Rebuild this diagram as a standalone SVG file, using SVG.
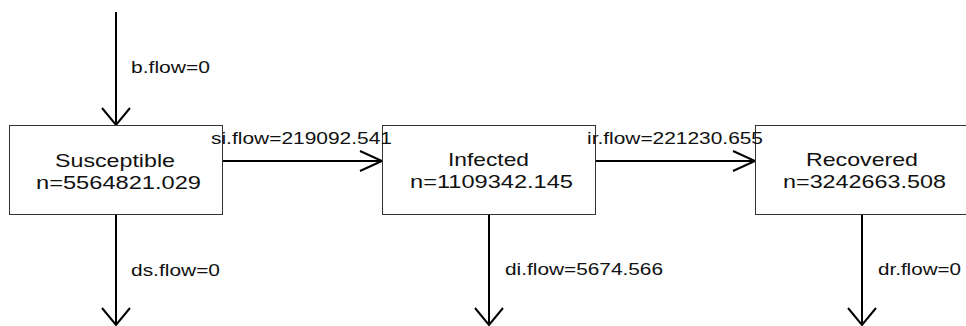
<svg xmlns="http://www.w3.org/2000/svg" width="966" height="326" viewBox="0 0 966 326">
<style>
.box{fill:#fff;stroke:#333;stroke-width:1}
.big{font-family:"Liberation Sans",Arial,sans-serif;font-size:18.6px;fill:#111}
.lbl{font-family:"Liberation Sans",Arial,sans-serif;font-size:16px;fill:#111}
.flow{stroke:#000;stroke-width:2;fill:none}
</style>
<defs>
<marker id="ah" markerUnits="userSpaceOnUse" viewBox="0 0 24 22" refX="22" refY="11" markerWidth="24" markerHeight="22" orient="auto" overflow="visible">
<path d="M0,1 L22,11 L0,21" fill="none" stroke="#000" stroke-width="2"/>
</marker>
<marker id="av" markerUnits="userSpaceOnUse" viewBox="0 0 18 30" refX="17" refY="15" markerWidth="18" markerHeight="30" orient="auto" overflow="visible">
<path d="M0,1 L17,15 L0,29" fill="none" stroke="#000" stroke-width="2"/>
</marker>
</defs>
<rect width="966" height="326" fill="#fff"/>
<g id="connectors">
<line class="flow" x1="116" y1="12" x2="116" y2="125" marker-end="url(#av)"/>
<line class="flow" x1="116" y1="214" x2="116" y2="325" marker-end="url(#av)"/>
<line class="flow" x1="222" y1="161" x2="382" y2="161" marker-end="url(#ah)"/>
<line class="flow" x1="489" y1="215" x2="489" y2="325" marker-end="url(#av)"/>
<line class="flow" x1="596" y1="161" x2="755" y2="161" marker-end="url(#ah)"/>
<line class="flow" x1="862" y1="215" x2="862" y2="325" marker-end="url(#av)"/>
<text class="lbl" x="131" y="73" textLength="79" lengthAdjust="spacingAndGlyphs">b.flow=0</text>
<text class="lbl" x="131" y="276" textLength="89" lengthAdjust="spacingAndGlyphs">ds.flow=0</text>
<text class="lbl" x="505" y="275" textLength="158" lengthAdjust="spacingAndGlyphs">di.flow=5674.566</text>
<text class="lbl" x="878" y="275" textLength="83" lengthAdjust="spacingAndGlyphs">dr.flow=0</text>
</g>
<g id="susceptible">
<rect class="box" x="9.5" y="125.5" width="213" height="89"/>
<text class="big" x="55" y="167" textLength="120" lengthAdjust="spacingAndGlyphs">Susceptible</text>
<text class="big" x="36" y="188.5" textLength="165" lengthAdjust="spacingAndGlyphs">n=5564821.029</text>
</g>
<g id="infected">
<rect class="box" x="382.5" y="125.5" width="213" height="89"/>
<text class="big" x="448" y="166" textLength="81" lengthAdjust="spacingAndGlyphs">Infected</text>
<text class="big" x="410" y="187.5" textLength="163" lengthAdjust="spacingAndGlyphs">n=1109342.145</text>
</g>
<g id="recovered">
<rect class="box" x="755.5" y="125.5" width="213" height="89"/>
<text class="big" x="806" y="166" textLength="112" lengthAdjust="spacingAndGlyphs">Recovered</text>
<text class="big" x="783" y="187.5" textLength="163" lengthAdjust="spacingAndGlyphs">n=3242663.508</text>
</g>
<g id="flow-labels">
<text class="lbl" x="211" y="144" textLength="181" lengthAdjust="spacingAndGlyphs">si.flow=219092.541</text>
<text class="lbl" x="587" y="144" textLength="176" lengthAdjust="spacingAndGlyphs">ir.flow=221230.655</text>
</g>
</svg>
